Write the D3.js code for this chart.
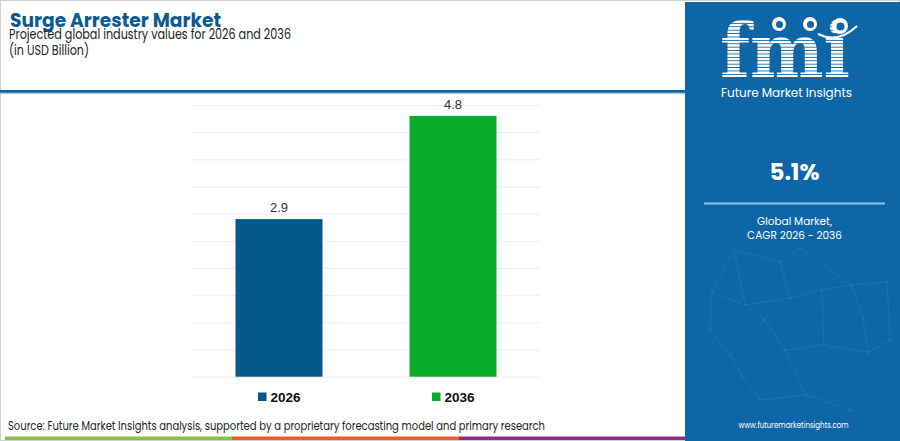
<!DOCTYPE html>
<html>
<head>
<meta charset="utf-8">
<script src="https://cdn.jsdelivr.net/npm/d3@7"></script>
<style>
  body { margin: 0; background: #fff; }
  svg { display: block; font-family: "Poppins", "Lato", "Open Sans", sans-serif; }
</style>
</head>
<body>
<svg id="chart" width="900" height="441"></svg>
<script>
// chart data
var years = ['2026', '2036'];
var values = [2.9, 4.8];
var barColors = ['#05588c', '#09ad2c'];
var gridTicks = [0, 0.5, 1, 1.5, 2, 2.5, 3, 3.5, 4, 4.5, 5];
var cagrText = '5.1%';

var svg = d3.select('#chart');
var svgWidth = +svg.attr('width');
var svgHeight = +svg.attr('height');

// frame
svg.append('rect')
    .attr('x', 0.5).attr('y', 0.5)
    .attr('width', svgWidth - 1).attr('height', svgHeight - 1)
    .attr('fill', '#fff').attr('stroke', '#d0d0d0');

// title block
svg.append('text')
    .attr('x', 10).attr('y', 26.5)
    .attr('font-size', 19).attr('font-weight', 700)
    .attr('fill', '#0d5a93')
    .attr('textLength', 211).attr('lengthAdjust', 'spacingAndGlyphs')
    .text('Surge Arrester Market');

svg.append('text')
    .attr('x', 9).attr('y', 38.5)
    .attr('font-size', 13.5).attr('fill', '#222')
    .attr('textLength', 282).attr('lengthAdjust', 'spacingAndGlyphs')
    .text('Projected global industry values for 2026 and 2036');

svg.append('text')
    .attr('x', 9).attr('y', 55)
    .attr('font-size', 13.5).attr('fill', '#222')
    .attr('textLength', 80).attr('lengthAdjust', 'spacingAndGlyphs')
    .text('(in USD Billion)');

// header rule
svg.append('rect').attr('x', 0).attr('y', 90).attr('width', 686).attr('height', 2).attr('fill', '#14609c');
svg.append('rect').attr('x', 0).attr('y', 92).attr('width', 686).attr('height', 1.5).attr('fill', '#3d8cc8');

// chart area
var plot = { l: 192, r: 540, t: 105, b: 376.7 };

var x = d3.scaleBand()
    .domain(years)
    .range([plot.l, plot.r])
    .paddingInner(0.5)
    .paddingOuter(0.25);

var y = d3.scaleLinear()
    .domain([0, 5])
    .range([plot.b, plot.t]);

var grid = d3.axisLeft(y)
    .tickValues(gridTicks)
    .tickSize(-(plot.r - plot.l))
    .tickFormat('');

svg.append('g')
    .attr('transform', 'translate(' + plot.l + ',0)')
    .call(grid)
    .call(function (g) { g.select('.domain').remove(); })
    .call(function (g) { g.selectAll('line').attr('stroke', '#ececec').attr('stroke-width', 1); });

var data = years.map(function (d, i) { return { year: d, value: values[i], color: barColors[i] }; });

svg.selectAll('.bar')
    .data(data)
    .enter()
    .append('rect')
    .attr('class', 'bar')
    .attr('x', function (d) { return x(d.year); })
    .attr('y', function (d) { return y(d.value); })
    .attr('width', x.bandwidth())
    .attr('height', function (d) { return y(0) - y(d.value); })
    .attr('fill', function (d) { return d.color; });

svg.selectAll('.value-label')
    .data(data)
    .enter()
    .append('text')
    .attr('class', 'value-label')
    .attr('x', function (d) { return x(d.year) + x.bandwidth() / 2; })
    .attr('y', function (d) { return y(d.value) - 7; })
    .attr('text-anchor', 'middle')
    .attr('font-family', 'Liberation Sans, Arial, sans-serif')
    .attr('font-size', 13)
    .attr('fill', '#333')
    .text(function (d) { return d.value.toFixed(1); });

// legend under each bar
var legend = svg.selectAll('.legend')
    .data(data)
    .enter()
    .append('g')
    .attr('class', 'legend')
    .attr('transform', function (d) { return 'translate(' + (x(d.year) + x.bandwidth() / 2 - 21) + ',397)'; });

legend.append('rect')
    .attr('x', 0).attr('y', -4.5)
    .attr('width', 8.5).attr('height', 8.5)
    .attr('fill', function (d) { return d.color; });

legend.append('text')
    .attr('x', 12.5).attr('y', 5)
    .attr('font-family', 'Liberation Sans, Arial, sans-serif')
    .attr('font-size', 13.5).attr('font-weight', 700)
    .attr('fill', '#111')
    .text(function (d) { return d.year; });

// source + colour strip
svg.append('text')
    .attr('x', 8).attr('y', 430)
    .attr('font-size', 11.5).attr('fill', '#222')
    .attr('textLength', 537).attr('lengthAdjust', 'spacingAndGlyphs')
    .text('Source: Future Market Insights analysis, supported by a proprietary forecasting model and primary research');

var stripColors = ['#86c341', '#ee5c2a', '#8e2a8c'];
var strip = d3.scaleBand().domain(stripColors).range([5, 686]);
svg.selectAll('.strip')
    .data(stripColors)
    .enter()
    .append('rect')
    .attr('x', function (d) { return strip(d); })
    .attr('y', 436.5)
    .attr('width', strip.bandwidth())
    .attr('height', 3.5)
    .attr('fill', function (d) { return d; });

// right panel
var panelX = 685;
var panelCx = panelX + (svgWidth - panelX) / 2;
svg.append('rect')
    .attr('x', panelX).attr('y', 2)
    .attr('width', svgWidth - panelX).attr('height', svgHeight - 2)
    .attr('fill', '#0f66a7');

// faint network decoration
var netPts = [[734, 250], [780, 262], [800, 248], [851, 285], [887, 282], [712, 292], [745, 305], [790, 298],
    [822, 290], [863, 318], [765, 320], [730, 355], [742, 376], [785, 350], [824, 345], [868, 352], [890, 340],
    [760, 400], [806, 395], [850, 410], [710, 330]];
var netLinks = [[0, 1], [0, 5], [0, 6], [1, 2], [1, 7], [2, 3], [3, 4], [3, 9], [5, 6], [6, 7], [7, 8], [8, 3],
    [6, 10], [10, 11], [11, 12], [10, 13], [13, 14], [14, 15], [15, 16], [9, 15], [12, 17], [17, 18], [18, 19],
    [13, 18], [5, 20], [20, 11], [8, 14], [4, 16]];
var net = svg.append('g').attr('opacity', 0.1);
net.selectAll('line')
    .data(netLinks)
    .enter()
    .append('line')
    .attr('x1', function (d) { return netPts[d[0]][0]; })
    .attr('y1', function (d) { return netPts[d[0]][1]; })
    .attr('x2', function (d) { return netPts[d[1]][0]; })
    .attr('y2', function (d) { return netPts[d[1]][1]; })
    .attr('stroke', '#bfe0ff').attr('stroke-width', 0.8);
net.selectAll('circle')
    .data(netPts)
    .enter()
    .append('circle')
    .attr('cx', function (d) { return d[0]; })
    .attr('cy', function (d) { return d[1]; })
    .attr('r', 1.3)
    .attr('fill', '#d8ecff');

// fmi logo: striped letters
var defs = svg.append('defs');
var pat = defs.append('pattern')
    .attr('id', 'stripes')
    .attr('patternUnits', 'userSpaceOnUse')
    .attr('width', 8).attr('height', 3.4);
pat.append('rect').attr('width', 8).attr('height', 2.5).attr('fill', '#fff');

svg.append('text')
    .attr('x', 720).attr('y', 77)
    .attr('font-family', 'DejaVu Serif, serif')
    .attr('font-size', 74).attr('font-weight', 700)
    .attr('fill', 'url(#stripes)')
    .attr('textLength', 130).attr('lengthAdjust', 'spacingAndGlyphs')
    .text('fmi');

var globes = [[779, 24, 7], [810, 24, 7], [840, 26, 8]];
svg.selectAll('.globe')
    .data(globes)
    .enter()
    .append('circle')
    .attr('class', 'globe')
    .attr('cx', function (d) { return d[0]; })
    .attr('cy', function (d) { return d[1]; })
    .attr('r', function (d) { return d[2]; })
    .attr('fill', '#fff');
svg.selectAll('.globe-land')
    .data(globes)
    .enter()
    .append('circle')
    .attr('cx', function (d) { return d[0] + 0.5; })
    .attr('cy', function (d) { return d[1] + 0.5; })
    .attr('r', function (d) { return d[2] * 0.5; })
    .attr('fill', '#0f66a7');
svg.append('path')
    .attr('d', 'M818,34 Q838,44 857,26')
    .attr('fill', 'none').attr('stroke', '#fff').attr('stroke-width', 2);

svg.append('text')
    .attr('x', 721).attr('y', 96.5)
    .attr('font-size', 13).attr('fill', '#fff')
    .attr('textLength', 131).attr('lengthAdjust', 'spacingAndGlyphs')
    .text('Future Market Insights');

svg.append('text')
    .attr('x', panelCx + 2).attr('y', 180)
    .attr('text-anchor', 'middle')
    .attr('font-size', 23).attr('font-weight', 700).attr('fill', '#fff')
    .text(cagrText);

svg.append('rect')
    .attr('x', 704).attr('y', 202.5)
    .attr('width', 181).attr('height', 2)
    .attr('fill', '#8cc4ee');

svg.append('text')
    .attr('x', panelCx + 2).attr('y', 225)
    .attr('text-anchor', 'middle')
    .attr('font-size', 10.5).attr('fill', '#fff')
    .text('Global Market,');

svg.append('text')
    .attr('x', panelCx + 2).attr('y', 239)
    .attr('text-anchor', 'middle')
    .attr('font-size', 10.5).attr('fill', '#fff')
    .text('CAGR 2026 - 2036');

svg.append('text')
    .attr('x', panelCx + 1).attr('y', 428)
    .attr('text-anchor', 'middle')
    .attr('font-size', 9).attr('fill', '#fff')
    .attr('textLength', 110).attr('lengthAdjust', 'spacingAndGlyphs')
    .text('www.futuremarketinsights.com');
</script>
</body>
</html>
